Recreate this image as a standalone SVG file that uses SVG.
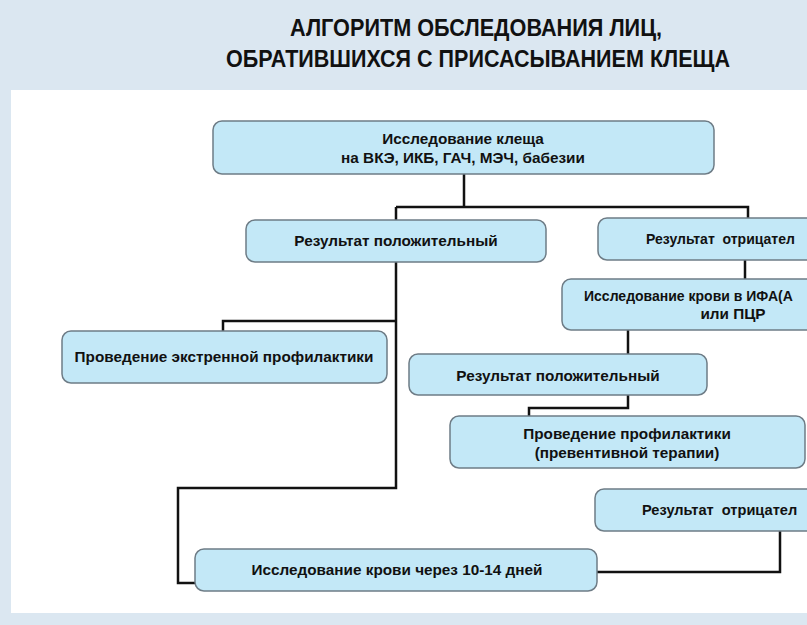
<svg xmlns="http://www.w3.org/2000/svg" width="807" height="625" viewBox="0 0 807 625">
<style>
.box{fill:#c3e8f7;stroke:#6e7c86;stroke-width:1.5}
.t{font-family:"Liberation Sans",Arial,sans-serif;font-weight:bold;font-size:15.3px;fill:#111;text-anchor:middle}
.ts{font-family:"Liberation Sans",Arial,sans-serif;font-weight:bold;font-size:14px;fill:#111}
.title{font-family:"Liberation Sans",Arial,sans-serif;font-weight:bold;font-size:24px;fill:#111}
.c{fill:none;stroke:#111;stroke-width:2.5;stroke-linejoin:miter}
</style>
<rect x="0" y="0" width="807" height="625" fill="#dbe7f1"/>
<rect x="11" y="90" width="796" height="523" fill="#ffffff"/>
<g id="title">
<text class="title" x="290" y="36" textLength="372" lengthAdjust="spacingAndGlyphs">АЛГОРИТМ ОБСЛЕДОВАНИЯ ЛИЦ,</text>
<text class="title" x="226" y="67" textLength="504" lengthAdjust="spacingAndGlyphs">ОБРАТИВШИХСЯ С ПРИСАСЫВАНИЕМ КЛЕЩА</text>
</g>
<g id="connectors">
<path class="c" d="M464 174 V207 M396 207 H748 V218 M396 207 V220"/>
<path class="c" d="M396 262 V488 H178 V583 H195"/>
<path class="c" d="M396 321 H223 V331"/>
<path class="c" d="M745 260 V279"/>
<path class="c" d="M628 330 V354"/>
<path class="c" d="M628 395 V408 H529 V416"/>
<path class="c" d="M780 531 V572 H597"/>
</g>
<g id="n1"><rect class="box" x="213" y="121" width="501" height="53" rx="9"/>
<text class="t" x="463" y="144">Исследование клеща</text>
<text class="t" x="463" y="163">на ВКЭ, ИКБ, ГАЧ, МЭЧ, бабезии</text></g>
<g id="n2"><rect class="box" x="246" y="220" width="300" height="42" rx="9"/>
<text class="t" x="396" y="246">Результат положительный</text></g>
<g id="n3"><rect class="box" x="598" y="218" width="220" height="42" rx="9"/>
<text class="ts" x="646" y="244" xml:space="preserve">Результат  отрицател</text></g>
<g id="n4"><rect class="box" x="62" y="331" width="325" height="52" rx="9"/>
<text class="t" x="224" y="362">Проведение экстренной профилактики</text></g>
<g id="n5"><rect class="box" x="562" y="279" width="256" height="51" rx="9"/>
<text class="ts" x="584" y="301">Исследование крови в ИФА(А</text>
<text class="t" x="733" y="319">или ПЦР</text></g>
<g id="n6"><rect class="box" x="409" y="354" width="298" height="41" rx="9"/>
<text class="t" x="558" y="381">Результат положительный</text></g>
<g id="n7"><rect class="box" x="450" y="416" width="355" height="52" rx="9"/>
<text class="t" x="627" y="439">Проведение профилактики</text>
<text class="t" x="627" y="458">(превентивной терапии)</text></g>
<g id="n8"><rect class="box" x="595" y="489" width="223" height="42" rx="9"/>
<text class="ts" x="642" y="515" xml:space="preserve" style="font-size:14.6px">Результат  отрицател</text></g>
<g id="n9"><rect class="box" x="195" y="549" width="402" height="42" rx="9"/>
<text class="t" x="397" y="575">Исследование крови через 10-14 дней</text></g>
</svg>
